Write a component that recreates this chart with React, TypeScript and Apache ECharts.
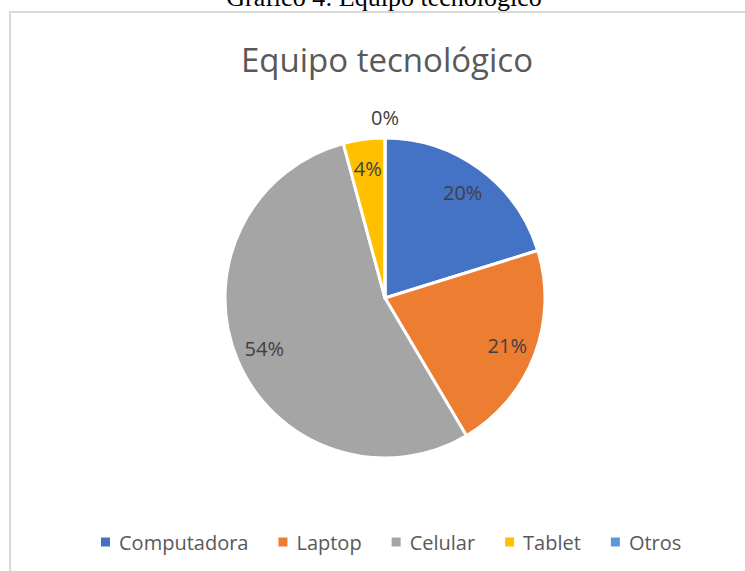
import React, { useEffect, useRef } from "react";
import * as echarts from "echarts";

const categories = ["Computadora", "Laptop", "Celular", "Tablet", "Otros"];
const values = [20.2, 21.3, 54.3, 4.2, 0];
const colors = ["#4472C4", "#ED7D31", "#A5A5A5", "#FFC000", "#5B9BD5"];
const chartTitle = "Equipo tecnológico";
const caption = "Gráfico 4: Equipo tecnológico";

const FONT = "Open Sans";

export default function App() {
  const ref = useRef<HTMLDivElement>(null);
  useEffect(() => {
    if (!ref.current) return;
    const chart = echarts.init(ref.current, null, { renderer: "svg" });
    const total = values.reduce((a, b) => a + b, 0);
    const fmt = (p: any) => Math.round((p.value / total) * 100) + "%";
    const center = [385, 298];
    const mainData = categories.map((name, i) => ({
      name,
      value: values[i],
      itemStyle: { color: colors[i] },
    }));
    const labelData = (onlyZero: boolean) =>
      categories.map((name, i) => ({
        name,
        value: values[i],
        label: { show: onlyZero ? values[i] === 0 : values[i] !== 0 },
      }));
    const labelStyle = {
      position: "inside",
      formatter: fmt,
      color: "#404040",
      fontFamily: FONT,
      fontSize: 20,
    };
    chart.setOption({
      animation: false,
      backgroundColor: "#ffffff",
      title: {
        text: chartTitle,
        left: 382,
        textAlign: "center",
        top: 38,
        textStyle: {
          fontFamily: FONT,
          fontSize: 33,
          fontWeight: "normal",
          color: "#595959",
        },
      },
      legend: {
        data: categories,
        bottom: 14,
        left: 94,
        icon: "rect",
        itemWidth: 11,
        itemHeight: 11,
        itemGap: 28,
        textStyle: {
          fontFamily: FONT,
          fontSize: 20,
          color: "#595959",
          padding: [0, 0, 0, 3],
        },
      },
      graphic: [
        {
          type: "rect",
          shape: { x: 10, y: 12, width: 800, height: 700 },
          style: { fill: "none", stroke: "#d9d9d9", lineWidth: 2 },
          silent: true,
        },
        {
          type: "text",
          x: 384,
          y: 10,
          style: {
            text: caption,
            fontFamily: "Liberation Serif",
            fontSize: 26,
            fill: "#000000",
            align: "center",
            verticalAlign: "bottom",
          },
          silent: true,
        },
      ],
      series: [
        {
          type: "pie",
          center,
          radius: 160,
          startAngle: 90,
          clockwise: true,
          avoidLabelOverlap: false,
          label: { show: false },
          labelLine: { show: false },
          itemStyle: { borderColor: "#ffffff", borderWidth: 3 },
          emphasis: { disabled: true },
          data: mainData,
        },
        {
          type: "pie",
          center,
          radius: 256,
          startAngle: 90,
          clockwise: true,
          silent: true,
          avoidLabelOverlap: false,
          itemStyle: { color: "rgba(0,0,0,0)", borderWidth: 0 },
          label: labelStyle,
          labelLine: { show: false },
          emphasis: { disabled: true },
          data: labelData(false),
        },
        {
          type: "pie",
          center,
          radius: 356,
          startAngle: 90,
          clockwise: true,
          silent: true,
          avoidLabelOverlap: false,
          itemStyle: { color: "rgba(0,0,0,0)", borderWidth: 0 },
          label: labelStyle,
          labelLine: { show: false },
          emphasis: { disabled: true },
          data: labelData(true),
        },
      ],
    });
    return () => chart.dispose();
  }, []);
  return (
    <div
      ref={ref}
      style={{ position: "absolute", left: 0, top: 0, width: 745, height: 571 }}
    />
  );
}
